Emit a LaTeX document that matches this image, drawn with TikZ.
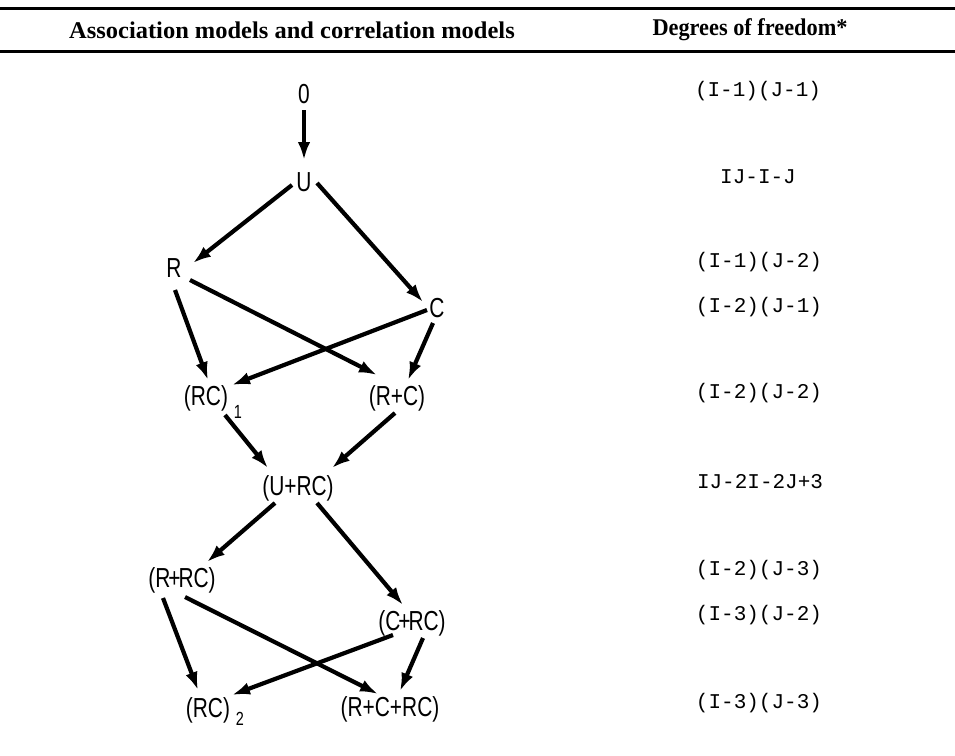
\documentclass[tikz,border=0pt]{standalone}
\usepackage{fontspec}
\setmainfont{Liberation Serif}
\newfontfamily\nodefont[FakeStretch=0.76]{Liberation Sans}
\newfontfamily\dffont{Liberation Mono}
\usetikzlibrary{arrows.meta,calc}
\tikzset{
  mnode/.style={inner sep=0pt, font=\nodefont\fontsize{27.5}{28}\selectfont},
  subnode/.style={inner sep=0pt, font=\nodefont\fontsize{19}{19}\selectfont},
  dfnode/.style={inner sep=0pt, font=\dffont\fontsize{21}{22}\selectfont},
  headnode/.style={inner sep=0pt, font=\bfseries\fontsize{24}{25}\selectfont},
  arr/.style={line width=4.2pt, -{Latex[length=18pt,width=12.5pt]}},
  rulel/.style={line width=3pt}
}
\begin{document}
\begin{tikzpicture}[x=1pt,y=-1pt]
\useasboundingbox[fill=white] (0,0) rectangle (955,755);
% header
\coordinate (r1a) at (0,8); \coordinate (r1b) at (955,8);
\coordinate (r2a) at (0,51); \coordinate (r2b) at (955,51);
\draw[rulel] (r1a) -- (r1b);
\draw[rulel] (r2a) -- (r2b);
\node[headnode] (h1) at (292,30) {\scalebox{1.02}[1]{Association models and correlation models}};
\node[headnode] (h2) at (750,30) {\scalebox{0.93}[1]{Degrees of freedom*}};
% model nodes
\node[mnode] (O) at (304,94) {0};
\node[mnode] (U) at (304,182) {U};
\node[mnode] (R) at (174,268) {R};
\node[mnode] (C) at (437,308) {C};
\node[mnode] (RC1) at (206,398) {(RC)};
\node[subnode] (RC1s) at (238,412) {1};
\node[mnode] (RpC) at (397,398) {(R+C)};
\node[mnode] (UpRC) at (298,488) {(U+RC)};
\node[mnode] (RpRC) at (182,580) {(R\kern-2pt+\kern-2pt RC)};
\node[mnode] (CpRC) at (412,623) {(C\kern-2pt+\kern-2pt RC)};
\node[mnode] (RC2) at (208,710) {(RC)};
\node[subnode] (RC2s) at (240,719) {2};
\node[mnode] (RCRC) at (390,709) {(R+C+RC)};
% degrees of freedom
\node[dfnode] (d1) at (758,91) {(I-1)(J-1)};
\node[dfnode] (d2) at (758,177) {IJ-I-J};
\node[dfnode] (d3) at (759,262) {(I-1)(J-2)};
\node[dfnode] (d4) at (759,307) {(I-2)(J-1)};
\node[dfnode] (d5) at (759,393) {(I-2)(J-2)};
\node[dfnode] (d6) at (760,482) {IJ-2I-2J+3};
\node[dfnode] (d7) at (759,570) {(I-2)(J-3)};
\node[dfnode] (d8) at (759,615) {(I-3)(J-2)};
\node[dfnode] (d9) at (759,703) {(I-3)(J-3)};
% arrows
\draw[arr] ($(O)+(0,16)$) -- ($(U)+(0,-22)$);
\draw[arr] ($(U)+(-12,3)$) -- ($(R)+(19,-5)$);
\draw[arr] ($(U)+(13,1)$) -- ($(C)+(-14,-6)$);
\draw[arr] ($(R)+(1,22)$) -- ($(RC1)+(2,-18)$);
\draw[arr] ($(R)+(16,12)$) -- ($(RpC)+(-20,-23)$);
\draw[arr] ($(C)+(-10,2)$) -- ($(RC1)+(26,-13)$);
\draw[arr] ($(C)+(-4,15)$) -- ($(RpC)+(11,-18)$);
\draw[arr] ($(RC1)+(19,17)$) -- ($(UpRC)+(-30,-20)$);
\draw[arr] ($(RpC)+(-2,15)$) -- ($(UpRC)+(34,-20)$);
\draw[arr] ($(UpRC)+(-23,15)$) -- ($(RpRC)+(25,-18)$);
\draw[arr] ($(UpRC)+(19,15)$) -- ($(CpRC)+(-9,-18)$);
\draw[arr] ($(RpRC)+(-19,18)$) -- ($(RC2)+(-10,-20)$);
\draw[arr] ($(RpRC)+(3,17)$) -- ($(RCRC)+(-12,-15)$);
\draw[arr] ($(CpRC)+(-19,12)$) -- ($(RC2)+(24,-15)$);
\draw[arr] ($(CpRC)+(11,15)$) -- ($(RCRC)+(10,-18)$);
\end{tikzpicture}
\end{document}
